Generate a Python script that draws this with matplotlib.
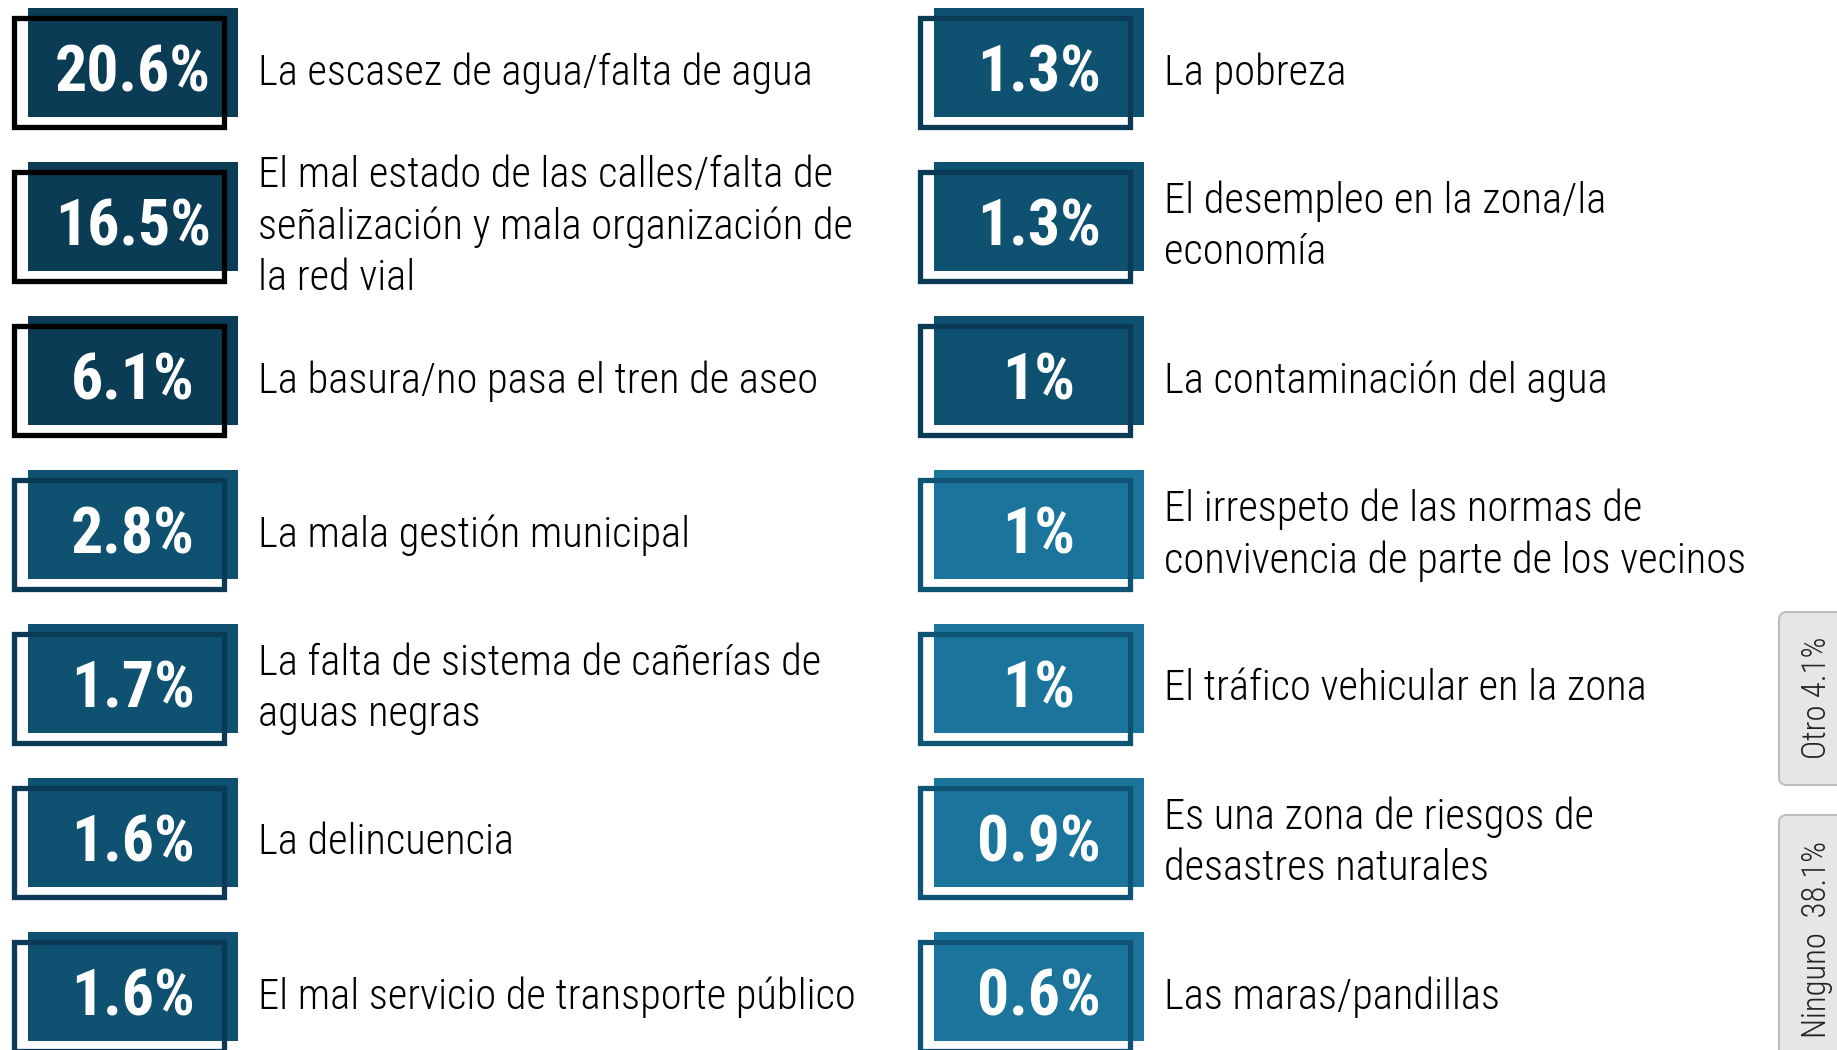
import matplotlib
matplotlib.use("Agg")
import matplotlib.pyplot as plt
from matplotlib import font_manager as fm
from matplotlib.patches import Rectangle, FancyBboxPatch

# pick a narrow font if one is installed
avail = {(f.name, f.stretch) for f in fm.fontManager.ttflist}
names = {f.name for f in fm.fontManager.ttflist}
narrow = None
for cand in ['Liberation Sans Narrow', 'DejaVu Sans Condensed', 'Roboto Condensed',
             'Open Sans Condensed']:
    if cand in names:
        narrow = cand
        break
stretch = 'normal'
if narrow is None and ('DejaVu Sans', 'condensed') in avail:
    narrow, stretch = 'DejaVu Sans', 'condensed'

if narrow:
    plt.rcParams['font.family'] = [narrow, 'DejaVu Sans']
    plt.rcParams['font.stretch'] = stretch
    lab_size, val_size, side_size = 30.6, 46, 23.5
else:
    plt.rcParams['font.family'] = ['DejaVu Sans']
    lab_size, val_size, side_size = 24, 34, 19

# data (left column first, then right column)
left_values = [20.6, 16.5, 6.1, 2.8, 1.7, 1.6, 1.6]
left_labels = [
    "La escasez de agua/falta de agua",
    "El mal estado de las calles/falta de\nseñalización y mala organización de\nla red vial",
    "La basura/no pasa el tren de aseo",
    "La mala gestión municipal",
    "La falta de sistema de cañerías de\naguas negras",
    "La delincuencia",
    "El mal servicio de transporte público",
]
right_values = [1.3, 1.3, 1, 1, 1, 0.9, 0.6]
right_labels = [
    "La pobreza",
    "El desempleo en la zona/la\neconomía",
    "La contaminación del agua",
    "El irrespeto de las normas de\nconvivencia de parte de los vecinos",
    "El tráfico vehicular en la zona",
    "Es una zona de riesgos de\ndesastres naturales",
    "Las maras/pandillas",
]
other_labels = ["Otro 4.1%", "Ninguno  38.1%"]

# colour tiers by rank
fill_cols = ['#0b3c55', '#0e5170', '#1b749c']
edge_cols = ['black', '#0a3a55', '#0f5474']

def tier(rank):
    if rank < 3:
        return 0
    if rank < 10:
        return 1
    return 2

def fmt(v):
    return f"{v:g}%"

W, H = 1837, 1050
fig = plt.figure(figsize=(W / 100, H / 100), dpi=100)
ax = fig.add_axes([0, 0, 1, 1])
ax.set_xlim(0, W)
ax.set_ylim(H, 0)
ax.axis('off')

row_h = 154
col_off = 906

values = left_values + right_values
labels = left_labels + right_labels
for k, (v, lab) in enumerate(zip(values, labels)):
    col, row = divmod(k, 7)
    x0 = col * col_off
    y0 = row * row_h
    t = tier(k)
    ax.add_patch(Rectangle((x0 + 28, y0 + 8), 210, 109,
                           facecolor=fill_cols[t], edgecolor='none', zorder=1))
    ax.add_patch(Rectangle((x0 + 13.5, y0 + 17.5), 210, 109,
                           facecolor='none', edgecolor=edge_cols[t],
                           lw=3.8, zorder=2))
    ax.text(x0 + 133, y0 + 91, fmt(v), color='white', fontsize=val_size,
            fontweight='bold', ha='center', va='baseline', zorder=3)
    ax.text(x0 + 258, y0 + 73, lab, color='black', fontsize=lab_size,
            fontweight='light', ha='left', va='center', linespacing=1.32,
            zorder=3)

# side boxes
box_y = [(612, 785), (815, 1070)]
for (ya, yb), lab in zip(box_y, other_labels):
    ax.add_patch(FancyBboxPatch((1779, ya), 80, yb - ya,
                                boxstyle="round,pad=0,rounding_size=8",
                                facecolor='#e6e6e6', edgecolor='#bdbdbd',
                                lw=1.5, zorder=1))
ax.text(1817, 698, other_labels[0], rotation=90, color='#222222',
        fontsize=side_size, fontweight='light', ha='center', va='center')
ax.text(1817, 939, other_labels[1], rotation=90, color='#222222',
        fontsize=side_size, fontweight='light', ha='center', va='center')

fig.savefig("out.png", dpi=100)
